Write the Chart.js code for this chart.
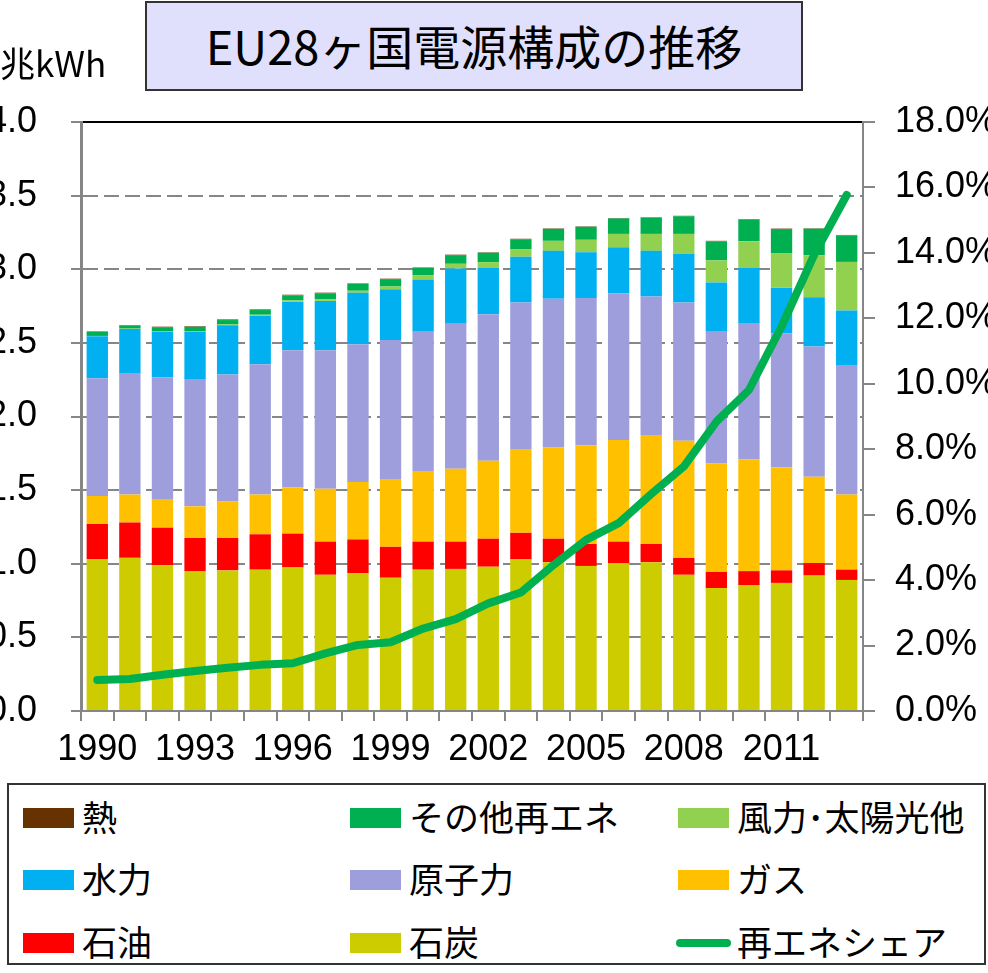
<!DOCTYPE html>
<html>
<head>
<meta charset="utf-8">
<script src="https://cdn.jsdelivr.net/npm/chart.js@4.4.1/dist/chart.umd.min.js"></script>
<style>
  body { margin: 0; width: 988px; height: 973px; overflow: hidden; background: #fff; position: relative;
         font-family: "Noto Sans CJK JP", sans-serif; color: #000; }
  #wrap { position: absolute; left: 0; top: 0; width: 988px; height: 780px; }
  #title { position: absolute; left: 145px; top: 1px; width: 658px; height: 90px; box-sizing: border-box;
           border: 2px solid #333; background: #E0E0FC; font-size: 47px; line-height: 84px; text-align: center; }
  #unit { position: absolute; left: 0px; top: 37px; font-size: 35px; line-height: 50px; }
  #legend { position: absolute; left: 7px; top: 783px; width: 979px; height: 182px; box-sizing: border-box;
            border: 2px solid #333; }
  .item { position: absolute; height: 40px; }
  .sw { position: absolute; top: 10px; width: 51px; height: 20px; }
  .ln { position: absolute; top: 16px; left: -2px; width: 55px; height: 8px; border-radius: 4px; }
  .tx { position: absolute; left: 59px; top: -2px; font-size: 35px; line-height: 40px; white-space: nowrap; }
</style>
</head>
<body>
<div id="wrap"><canvas id="chart" width="988" height="780"></canvas></div>
<div id="title">EU28ヶ国電源構成の推移</div>
<div id="unit">兆kWh</div>
<div id="legend"></div>
<script>
const years = ['1990','1991','1992','1993','1994','1995','1996','1997','1998','1999','2000','2001',
               '2002','2003','2004','2005','2006','2007','2008','2009','2010','2011','2012','2013'];

// 兆kWh
const coal    = [1.03,1.04,0.99,0.95,0.955,0.96,0.975,0.925,0.935,0.905,0.96,0.965,
                 0.98,1.03,1.01,0.985,1.005,1.01,0.925,0.835,0.855,0.87,0.92,0.89];
const oil     = [0.24,0.24,0.255,0.225,0.22,0.24,0.23,0.225,0.23,0.21,0.19,0.185,
                 0.19,0.18,0.16,0.15,0.145,0.125,0.115,0.11,0.095,0.085,0.085,0.07];
const gas     = [0.19,0.19,0.19,0.215,0.25,0.27,0.315,0.36,0.39,0.46,0.48,0.495,
                 0.53,0.57,0.62,0.67,0.69,0.74,0.795,0.735,0.76,0.70,0.585,0.51];
const nuclear = [0.80,0.825,0.83,0.865,0.86,0.885,0.93,0.94,0.935,0.945,0.945,0.985,
                 0.995,0.995,1.01,1.00,0.995,0.94,0.94,0.895,0.925,0.91,0.885,0.88];
const hydro   = [0.285,0.30,0.31,0.32,0.335,0.33,0.33,0.335,0.35,0.345,0.355,0.375,
                 0.315,0.31,0.325,0.31,0.315,0.31,0.33,0.335,0.375,0.31,0.335,0.37];
const windSolar = [0.002,0.002,0.003,0.004,0.005,0.006,0.008,0.012,0.014,0.018,0.03,0.032,
                   0.038,0.052,0.068,0.085,0.09,0.115,0.135,0.15,0.18,0.235,0.285,0.33];
const otherRe = [0.028,0.021,0.029,0.030,0.03,0.032,0.035,0.04,0.047,0.05,0.049,0.059,
                 0.064,0.067,0.081,0.088,0.105,0.11,0.12,0.13,0.148,0.163,0.18,0.18];
const heat    = [0.003,0.003,0.003,0.004,0.004,0.004,0.004,0.004,0.003,0.003,0.003,0.003,
                 0.003,0.003,0.003,0.003,0.003,0.003,0.003,0.003,0.003,0.003,0.003,0.003];
// %
const reShare = [0.95,0.98,1.11,1.22,1.32,1.41,1.46,1.76,2.02,2.10,2.52,2.81,
                 3.29,3.62,4.46,5.23,5.74,6.63,7.47,8.84,9.81,11.75,13.94,15.77];

const tickFont = { family: '"Liberation Sans", Arial, sans-serif', size: 36 };
const gridGray = '#868686';

const bar = (label, data, color) => ({
  type: 'bar', label, data, backgroundColor: color, stack: 's', yAxisID: 'y', order: 1,
  barPercentage: 0.655, categoryPercentage: 1, borderWidth: 0
});

const chart = new Chart(document.getElementById('chart'), {
  data: {
    labels: years,
    datasets: [
      bar('石炭', coal, '#CCCC00'),
      bar('石油', oil, '#FF0000'),
      bar('ガス', gas, '#FFC000'),
      bar('原子力', nuclear, '#9E9EDD'),
      bar('水力', hydro, '#00B0F0'),
      bar('風力･太陽光他', windSolar, '#92D050'),
      bar('その他再エネ', otherRe, '#00B050'),
      bar('熱', heat, '#663300'),
      {
        type: 'line', label: '再エネシェア', data: reShare, yAxisID: 'y2', order: 0,
        borderColor: '#00B050', backgroundColor: '#00B050', borderWidth: 8, pointRadius: 0,
        borderCapStyle: 'round', borderJoinStyle: 'round', tension: 0
      }
    ]
  },
  options: {
    responsive: false,
    animation: false,
    devicePixelRatio: 1,
    layout: { padding: { top: 122, left: 0, right: 0, bottom: 0 } },
    plugins: { legend: { display: false }, tooltip: { enabled: false } },
    scales: {
      x: {
        stacked: true,
        grid: { offset: true, drawOnChartArea: false, tickLength: 10, color: gridGray, lineWidth: 2 },
        border: { color: gridGray, width: 2 },
        ticks: {
          autoSkip: false, maxRotation: 0, padding: 7, color: '#000', font: tickFont,
          callback: (v, i) => (i % 3 === 0 ? years[i] : '')
        },
        afterFit: (s) => { s.height = 69; }
      },
      y: {
        stacked: true, min: 0, max: 4,
        ticks: { stepSize: 0.5, padding: 34, color: '#000', font: tickFont, callback: (v) => v.toFixed(1) },
        grid: {
          lineWidth: 2, tickLength: 10, tickColor: gridGray,
          color: (ctx) => (ctx.tick && ctx.tick.value === 4 ? '#000' : gridGray)
        },
        border: {
          color: gridGray, width: 3,
          dash: (ctx) => (ctx.tick && ctx.tick.value > 0 && ctx.tick.value < 4 ? [15, 6] : [])
        },
        afterFit: (s) => { s.width = 81; }
      },
      y2: {
        position: 'right', min: 0, max: 18,
        ticks: { stepSize: 2, padding: 20, color: '#000', font: tickFont, callback: (v) => v.toFixed(1) + '%' },
        grid: { drawOnChartArea: false, tickLength: 12, color: gridGray, lineWidth: 2 },
        border: { color: gridGray, width: 2 },
        afterFit: (s) => { s.width = 125; }
      }
    }
  }
});

// legend, three columns, same order as the original
const legendOrder = [7, 6, 5, 4, 3, 2, 1, 0, 8];
const colX = [14, 341, 669];
const rowY = [13, 75, 138];
const legend = document.getElementById('legend');
legendOrder.forEach((di, k) => {
  const ds = chart.data.datasets[di];
  const item = document.createElement('div');
  item.className = 'item';
  item.style.left = colX[k % 3] + 'px';
  item.style.top = rowY[Math.floor(k / 3)] + 'px';
  const sw = document.createElement('div');
  sw.className = ds.type === 'line' ? 'ln' : 'sw';
  sw.style.background = ds.type === 'line' ? ds.borderColor : ds.backgroundColor;
  const tx = document.createElement('div');
  tx.className = 'tx';
  tx.textContent = ds.label;
  item.appendChild(sw);
  item.appendChild(tx);
  legend.appendChild(item);
});
</script>
</body>
</html>
